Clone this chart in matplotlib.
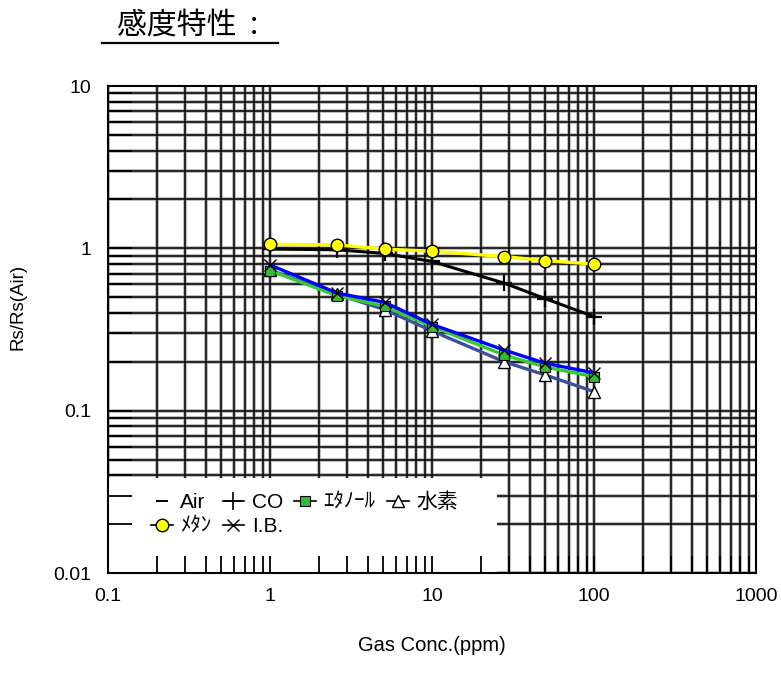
import matplotlib
matplotlib.use("Agg")
import matplotlib.pyplot as plt
from matplotlib.lines import Line2D
from matplotlib.patches import Rectangle
from matplotlib.ticker import LogLocator, FuncFormatter, NullFormatter

plt.rcParams['font.family'] = ['Liberation Sans', 'Noto Sans CJK JP']

# gas concentration (ppm) and Rs/Rs(Air)
conc = [1, 2.6, 5.1, 10, 28, 50, 100]
methane = [1.06, 1.05, 0.99, 0.96, 0.89, 0.84, 0.80]
co = [0.99, 0.98, 0.93, 0.83, 0.61, 0.49, 0.38]
ethanol = [0.73, 0.51, 0.44, 0.33, 0.22, 0.186, 0.162]
hydrogen = [0.735, 0.52, 0.42, 0.31, 0.20, 0.166, 0.131]
ib = [0.79, 0.53, 0.465, 0.34, 0.236, 0.196, 0.171]

x_decades = [0.1, 1, 10, 100]
y_decades = [0.01, 0.1, 1]

fig = plt.figure(figsize=(7.81, 6.86), dpi=100)
ax = fig.add_axes([0.1383, 0.1647, 0.8297, 0.7099])
ax.set_xscale('log')
ax.set_yscale('log')
ax.set_xlim(0.1, 1000)
ax.set_ylim(0.01, 10)

# hand-drawn grid (gray halo pass first, then black) so the legend box can sit on top
for col, lw, z in [('#b0b0b0', 2.6, 0.9), ('black', 1.1, 1.0)]:
    for d in x_decades:
        for m in range(1, 10):
            ax.axvline(d * m, color=col, lw=lw, zorder=z)
    for d in y_decades:
        for m in range(1, 10):
            ax.axhline(d * m, color=col, lw=lw, zorder=z)

ax.plot(conc, co, color='black', lw=2.2, marker='+', ms=11, mew=1.6, mec='black', zorder=3)
ax.plot(conc, methane, color='#ffff00', lw=2.4, marker='o', ms=9, mfc='#ffff00',
        mec='black', mew=1.0, zorder=3)
ax.plot(conc, hydrogen, color='#3f4f9f', lw=2.4, marker='^', ms=8.5, mfc='white',
        mec='black', mew=1.0, zorder=3)
ax.plot(conc, ethanol, color='#33cc33', lw=2.4, marker='s', ms=7.5, mfc='#33bb33',
        mec='black', mew=0.8, zorder=3)
ax.plot(conc, ib, color='#0000ff', lw=2.4, marker='x', ms=8, mec='black', mew=1.0, zorder=3)

# white area behind the legend
ax.add_patch(Rectangle((0, 0), 0.600, 0.195, transform=ax.transAxes,
                       facecolor='white', edgecolor='none', zorder=1.2))

handles = [
    Line2D([], [], ls='none', marker='_', ms=9, mew=1.4, color='black'),
    Line2D([], [], color='black', lw=1.2, marker='o', ms=9, mfc='#ffff00', mec='black', mew=1.0),
    Line2D([], [], color='black', lw=1.2, marker='+', ms=13, mew=1.2),
    Line2D([], [], color='black', lw=1.2, marker='x', ms=8, mew=1.0),
    Line2D([], [], color='black', lw=1.2, marker='s', ms=7, mfc='#33bb33', mec='black', mew=0.8),
    Line2D([], [], color='black', lw=1.2, marker='^', ms=8, mfc='white', mec='black', mew=1.0),
]
labels = ['Air', 'ﾒﾀﾝ', 'CO', 'I.B.', 'ｴﾀﾉｰﾙ', '水素']
leg = ax.legend(handles, labels, ncol=4, loc='upper left',
                bbox_to_anchor=(0.066, 0.166), frameon=False, fontsize=15,
                handlelength=1.05, handletextpad=0.35, columnspacing=0.55,
                labelspacing=0.25, borderpad=0, borderaxespad=0)
leg.set_zorder(1.3)

fmt = FuncFormatter(lambda v, p: '%g' % v)
ax.xaxis.set_major_locator(LogLocator(base=10, numticks=10))
ax.yaxis.set_major_locator(LogLocator(base=10, numticks=10))
ax.xaxis.set_minor_locator(LogLocator(base=10, subs=range(2, 10), numticks=20))
ax.yaxis.set_minor_locator(LogLocator(base=10, subs=range(2, 10), numticks=20))
ax.xaxis.set_major_formatter(fmt)
ax.yaxis.set_major_formatter(fmt)
ax.xaxis.set_minor_formatter(NullFormatter())
ax.yaxis.set_minor_formatter(NullFormatter())
ax.tick_params(axis='x', which='both', direction='in', length=12, width=1.3,
               labelsize=14, pad=11, top=False)
ax.tick_params(axis='y', which='both', direction='in', length=17, width=1.3,
               labelsize=14, pad=12, right=False)

for s in ax.spines.values():
    s.set_linewidth(1.5)
    s.set_zorder(2.6)

ax.set_xlabel('Gas Conc.(ppm)', fontsize=14.5, va='center')
ax.xaxis.set_label_coords(0.5, -0.148)
ax.set_ylabel('Rs/Rs(Air)', fontsize=13.5, va='center')
ax.yaxis.set_label_coords(-0.139, 0.546)

fig.text(0.1498, 0.963, '感度特性  :', fontsize=21.5, ha='left', va='center',
         family=['Noto Sans CJK JP'])
fig.add_artist(Line2D([0.1306, 0.356], [0.9369, 0.9369], color='black', lw=1.6))

fig.savefig('out.png', dpi=100)
